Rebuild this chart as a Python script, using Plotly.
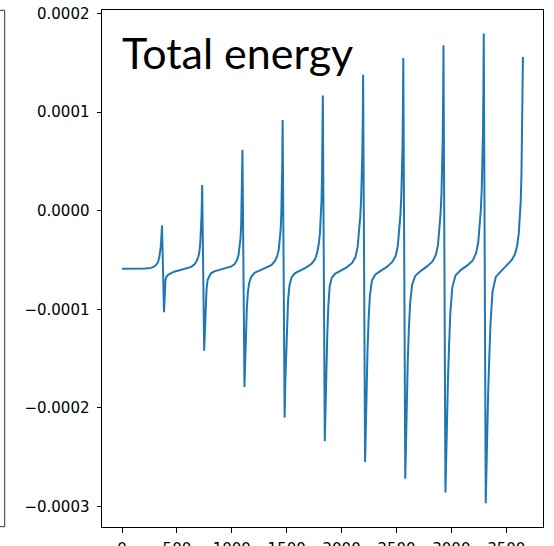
import plotly.graph_objects as go

# Values; energy values are in units of 1e-5
UNIT = 1e-5

x_c1 = [0, 60, 150, 214, 264, 294, 314, 328, 338, 346, 352, 357, 361, 364,
        382, 389, 396, 404, 414, 426, 444, 474, 524]
y_c1 = [-5.9, -5.9, -5.89, -5.87, -5.8, -5.65, -5.45, -5.2, -4.8, -4.3, -3.7, -3.0, -2.3, -1.5,
        -10.3, -8.0, -7.0, -6.7, -6.55, -6.45, -6.35, -6.2, -6.05]

x_c2 = [580, 630, 660, 680, 694, 704, 712, 718, 723, 727, 730,
        748, 755, 762, 770, 780, 792, 810, 840, 890]
y_c2 = [-5.9, -5.7, -5.45, -5.1, -4.7, -4.2, -3.4, -2.3, -0.8, 0.8, 2.6,
        -14.2, -11.5, -9.2, -7.9, -7.0, -6.7, -6.35, -6.15, -6.0]

x_c3 = [947, 997, 1027, 1047, 1061, 1071, 1079, 1085, 1090, 1094, 1097,
        1115, 1122, 1129, 1137, 1147, 1159, 1177, 1207, 1257]
y_c3 = [-5.85, -5.65, -5.4, -5.0, -4.5, -3.8, -2.8, -1.5, 0.6, 3.0, 6.2,
        -17.9, -14.5, -11.8, -9.8, -8.2, -7.3, -6.7, -6.3, -6.05]

x_c4 = [1313, 1363, 1393, 1413, 1427, 1437, 1445, 1451, 1456, 1460, 1463,
        1481, 1488, 1495, 1503, 1513, 1525, 1543, 1573, 1623]
y_c4 = [-5.8, -5.5, -5.1, -4.6, -4.0, -3.1, -1.9, -0.3, 2.0, 5.2, 9.2,
        -21.0, -17.0, -14.0, -11.3, -9.0, -7.6, -6.8, -6.35, -6.05]

x_c5 = [1679, 1729, 1759, 1779, 1793, 1803, 1811, 1817, 1822, 1826, 1829,
        1847, 1854, 1861, 1869, 1879, 1891, 1909, 1939, 1989]
y_c5 = [-5.75, -5.35, -4.9, -4.2, -3.3, -2.2, -0.8, 1.0, 3.7, 7.3, 11.7,
        -23.4, -19.5, -16.0, -12.8, -9.7, -7.7, -6.85, -6.4, -6.1]

x_c6 = [2046, 2096, 2126, 2146, 2160, 2170, 2178, 2184, 2189, 2193, 2196,
        2214, 2221, 2228, 2236, 2246, 2258, 2276, 2306, 2356]
y_c6 = [-5.75, -5.3, -4.7, -3.7, -2.2, -0.6, 1.2, 3.2, 6.0, 9.5, 13.8,
        -25.5, -21.0, -17.5, -14.2, -11.0, -8.6, -7.1, -6.5, -6.1]

x_c7 = [2412, 2462, 2492, 2512, 2526, 2536, 2544, 2550, 2555, 2559, 2562,
        2580, 2587, 2594, 2602, 2612, 2624, 2642, 2672, 2722]
y_c7 = [-5.7, -5.2, -4.6, -3.6, -2.1, -0.4, 1.5, 3.6, 6.6, 10.7, 15.5,
        -27.2, -22.5, -19.0, -15.5, -12.2, -9.4, -7.5, -6.6, -6.1]

x_c8 = [2778, 2828, 2858, 2878, 2892, 2902, 2910, 2916, 2921, 2925, 2928,
        2946, 2953, 2960, 2968, 2978, 2990, 3008, 3038, 3088]
y_c8 = [-5.65, -5.15, -4.5, -3.5, -1.9, -0.2, 1.8, 4.0, 7.2, 11.6, 16.8,
        -28.6, -24.0, -21.0, -17.5, -14.0, -10.5, -7.8, -6.55, -6.0]

x_c9 = [3145, 3195, 3225, 3245, 3259, 3269, 3277, 3283, 3288, 3292, 3295,
        3313, 3320, 3327, 3335, 3345, 3357, 3375, 3405, 3455]
y_c9 = [-5.55, -5.05, -4.3, -3.2, -1.6, 0.2, 2.3, 4.6, 8.0, 12.6, 18.0,
        -29.7, -25.0, -22.0, -18.5, -15.0, -11.3, -8.2, -6.7, -6.1]

x_c10 = [3505, 3550, 3580, 3600, 3614, 3624, 3632, 3638, 3643, 3647, 3652]
y_c10 = [-5.5, -5.0, -4.4, -3.5, -2.3, -0.8, 1.0, 3.5, 7.0, 11.0, 15.6]

x_ticks = [0, 500, 1000, 1500, 2000, 2500, 3000, 3500]
y_ticks = [-0.0003, -0.0002, -0.0001, 0.0, 0.0001, 0.0002]
y_tick_text = ["\u22120.0003", "\u22120.0002", "\u22120.0001", "0.0000", "0.0001", "0.0002"]
title_text = "Total energy"

xs = x_c1 + x_c2 + x_c3 + x_c4 + x_c5 + x_c6 + x_c7 + x_c8 + x_c9 + x_c10
ys = [v * UNIT for v in (y_c1 + y_c2 + y_c3 + y_c4 + y_c5 + y_c6 + y_c7 + y_c8 + y_c9 + y_c10)]

W, H = 554, 546
ML, MR, MT, MB = 102, 11, 10, 19
PW = W - ML - MR
PH = H - MT - MB

fig = go.Figure()
fig.add_trace(go.Scatter(x=xs, y=ys, mode="lines",
                         line=dict(color="#1f77b4", width=2), hoverinfo="skip"))

axis_common = dict(showgrid=False, zeroline=False, showline=True, mirror=True,
                   linecolor="black", linewidth=1, ticks="outside", ticklen=4.5,
                   tickwidth=1, tickcolor="black",
                   tickfont=dict(family="DejaVu Sans", size=15, color="black"))

fig.update_xaxes(range=[-182.6, 3834.6], tickvals=x_ticks,
                 ticktext=[str(v) for v in x_ticks], ticklabelstandoff=3, **axis_common)
fig.update_yaxes(range=[-3.2104e-4, 2.0376e-4], tickvals=y_ticks,
                 ticktext=y_tick_text, ticklabelstandoff=4, **axis_common)

# partial frame of neighbouring panel on the left edge
px2paper_x = lambda px: (px - ML) / PW
px2paper_y = lambda py: 1 - (py - MT) / PH
fig.add_shape(type="path", xref="paper", yref="paper",
              path=f"M {px2paper_x(-2)} {px2paper_y(10.3)} L {px2paper_x(4.7)} {px2paper_y(10.3)} "
                   f"L {px2paper_x(4.7)} {px2paper_y(526.7)} L {px2paper_x(-2)} {px2paper_y(526.7)}",
              line=dict(color="#333333", width=1))

fig.add_annotation(text=title_text, xref="paper", yref="paper",
                   x=px2paper_x(120), y=px2paper_y(53), xanchor="left", yanchor="middle",
                   showarrow=False, font=dict(family="Lato", size=43, color="black"))

fig.update_layout(width=W, height=H, margin=dict(l=ML, r=MR, t=MT, b=MB, autoexpand=False),
                  paper_bgcolor="white", plot_bgcolor="white", showlegend=False)

fig.write_html("out.html", config={"displayModeBar": False},
               post_script="document.body.style.margin='0';document.body.style.overflow='hidden';")
